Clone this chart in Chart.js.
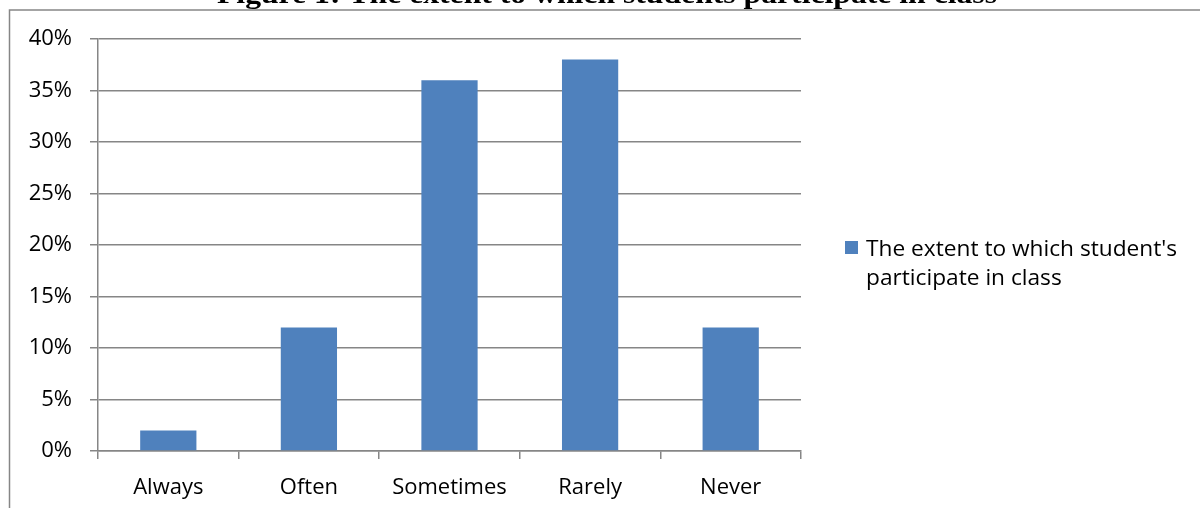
<!DOCTYPE html>
<html>
<head>
<meta charset="utf-8">
<script src="https://cdn.jsdelivr.net/npm/chart.js@4.4.1/dist/chart.umd.min.js"></script>
<style>
html,body{margin:0;padding:0;background:#fff;}
#wrap{position:relative;width:1200px;height:508px;overflow:hidden;}
</style>
</head>
<body>
<div id="wrap"><canvas id="c" width="1200" height="508"></canvas></div>
<script>
const categories = ["Always", "Often", "Sometimes", "Rarely", "Never"];
const values = [2, 12, 36, 38, 12];
const seriesLabel = ["The extent to which student's", "participate in class"];
const titleText = "Figure 1: The extent to which students participate in class";
const yTicks = [0, 5, 10, 15, 20, 25, 30, 35, 40];

const FONT = "'Open Sans', sans-serif";
const GRID = "#868686";
const BAR = "#4F81BD";

const decor = {
  id: 'decor',
  beforeDraw(chart) {
    const ctx = chart.ctx;
    ctx.save();
    ctx.fillStyle = '#fff';
    ctx.fillRect(0, 0, chart.width, chart.height);
    ctx.strokeStyle = GRID;
    ctx.lineWidth = 1.5;
    ctx.beginPath();
    ctx.moveTo(9.5, 508);
    ctx.lineTo(9.5, 10);
    ctx.lineTo(1200, 10);
    ctx.stroke();
    ctx.restore();
  },
  afterDraw(chart) {
    const ctx = chart.ctx;
    ctx.save();
    // title (cut off at top)
    ctx.fillStyle = '#000';
    ctx.font = "bold 28px 'Liberation Serif', 'Times New Roman', serif";
    ctx.textAlign = 'left';
    ctx.textBaseline = 'alphabetic';
    const w = ctx.measureText(titleText).width;
    const sx = 780 / w;
    ctx.translate(217, 3);
    ctx.scale(sx, 1);
    ctx.fillText(titleText, 0, 0);
    ctx.restore();
    ctx.save();
    // legend
    const ds = chart.data.datasets[0];
    ctx.fillStyle = ds.backgroundColor;
    ctx.fillRect(845, 241, 13, 13);
    ctx.fillStyle = '#000';
    ctx.font = "22.7px " + FONT;
    ctx.textAlign = 'left';
    ctx.textBaseline = 'alphabetic';
    ds.label.forEach((line, i) => ctx.fillText(line, 866, 256 + i * 28.5));
    ctx.restore();
  }
};

new Chart(document.getElementById('c'), {
  type: 'bar',
  data: {
    labels: categories,
    datasets: [{
      label: seriesLabel,
      data: values,
      backgroundColor: BAR,
      borderWidth: 0,
      barPercentage: 0.4,
      categoryPercentage: 1.0
    }]
  },
  options: {
    responsive: false,
    animation: false,
    devicePixelRatio: 1,
    layout: { padding: { left: 0, right: 399, top: 39, bottom: 0 } },
    plugins: {
      legend: { display: false },
      title: { display: false },
      tooltip: { enabled: false }
    },
    scales: {
      x: {
        offset: true,
        afterFit: s => { s.height = 57; },
        grid: { offset: true, drawOnChartArea: false, drawTicks: true, tickLength: 8, color: GRID, lineWidth: 1.5 },
        border: { display: true, color: GRID, width: 1.5 },
        ticks: { color: '#000', font: { family: FONT, size: 22 }, padding: 16, maxRotation: 0 }
      },
      y: {
        min: 0, max: 40,
        afterFit: s => { s.width = 98; },
        afterBuildTicks: s => { s.ticks = yTicks.map(v => ({ value: v })); },
        grid: { drawTicks: true, tickLength: 8, color: GRID, lineWidth: 1.5 },
        border: { display: true, color: GRID, width: 1.5 },
        ticks: { color: '#000', font: { family: FONT, size: 22 }, padding: 18, callback: v => v + '%' }
      }
    }
  },
  plugins: [decor]
});
</script>
</body>
</html>
